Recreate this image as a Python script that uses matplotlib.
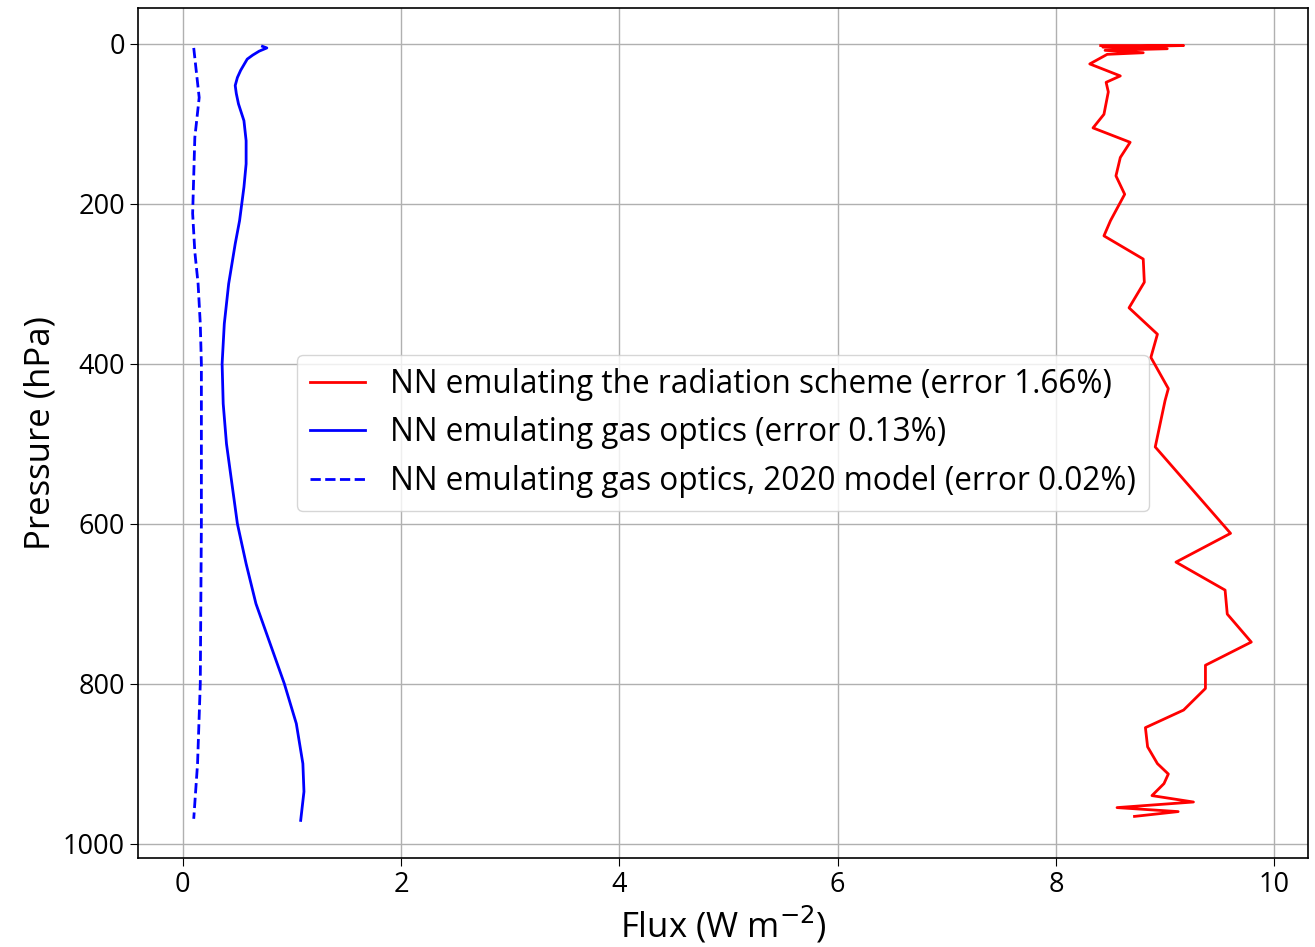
import numpy as np
import matplotlib
matplotlib.use("Agg")
import matplotlib.pyplot as plt

plt.rcParams['font.family'] = ['Open Sans', 'DejaVu Sans']

# NN emulating the radiation scheme
rad_p = [2, 2, 4, 6, 8, 11, 13, 25, 40, 48, 60, 88, 105, 123, 142, 165, 188, 221,
         240, 269, 298, 330, 363, 392, 431, 446, 504, 612, 648, 683, 713, 748, 777,
         806, 833, 855, 879, 900, 913, 925, 940, 948, 955, 960, 966]
rad_flux = [8.41, 9.17, 8.43, 9.02, 8.45, 8.80, 8.47, 8.31, 8.59, 8.46, 8.48, 8.44,
            8.34, 8.68, 8.59, 8.55, 8.63, 8.50, 8.44, 8.80, 8.81, 8.67, 8.93, 8.87,
            9.03, 9.00, 8.91, 9.60, 9.10, 9.55, 9.57, 9.79, 9.37, 9.37, 9.17, 8.82,
            8.84, 8.93, 9.03, 8.99, 8.88, 9.26, 8.56, 9.12, 8.72]

# NN emulating gas optics
gas_p = [3, 5, 9, 14, 19, 26, 33, 42, 52, 62, 75, 96, 121, 150, 179, 221, 250, 300,
         350, 400, 450, 500, 550, 600, 650, 700, 750, 800, 850, 900, 935, 971]
gas_flux = [0.73, 0.77, 0.70, 0.64, 0.59, 0.56, 0.53, 0.50, 0.48, 0.49, 0.51, 0.56,
            0.58, 0.58, 0.56, 0.52, 0.48, 0.42, 0.38, 0.36, 0.37, 0.40, 0.45, 0.50,
            0.58, 0.67, 0.80, 0.93, 1.04, 1.10, 1.11, 1.08]

# NN emulating gas optics, 2020 model
gas20_p = [5, 30, 67, 117, 212, 260, 300, 350, 400, 500, 600, 700, 800, 900, 969]
gas20_flux = [0.10, 0.12, 0.15, 0.11, 0.09, 0.11, 0.14, 0.16, 0.17, 0.17, 0.17,
              0.165, 0.16, 0.135, 0.10]

labels = ['NN emulating the radiation scheme (error 1.66%)',
          'NN emulating gas optics (error 0.13%)',
          'NN emulating gas optics, 2020 model (error 0.02%)']

fig = plt.figure(figsize=(13.15, 9.47), dpi=100)
ax = fig.add_axes([0.105, 0.094, 0.8897, 0.8976])

ax.plot(rad_flux, rad_p, color='red', lw=2, label=labels[0])
ax.plot(gas_flux, gas_p, color='blue', lw=2, label=labels[1])
ax.plot(gas20_flux, gas20_p, color='blue', lw=2, ls='--', label=labels[2])

ax.set_xlim(-0.41, 10.31)
ax.set_ylim(1018, -45)
ax.set_xticks([0, 2, 4, 6, 8, 10])
ax.set_yticks([0, 200, 400, 600, 800, 1000])
ax.grid(True, color='#b0b0b0', lw=1)
ax.tick_params(labelsize=19.5, length=6)
for s in ax.spines.values():
    s.set_linewidth(1.2)

ax.set_xlabel('Flux (W m$^{-2}$)', fontsize=25)
ax.set_ylabel('Pressure (hPa)', fontsize=25)
ax.legend(loc='center', fontsize=22.7, handlelength=1.76)

fig.savefig('out.png', dpi=100)
